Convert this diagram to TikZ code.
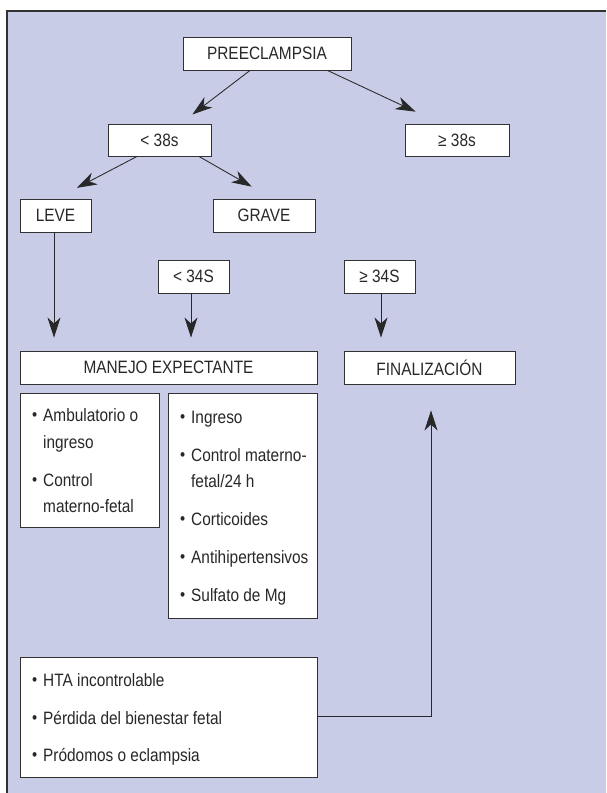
\documentclass[tikz,border=0pt]{standalone}
\usepackage{fontspec}
\setmainfont{Liberation Sans}[FakeStretch=0.86]
\usetikzlibrary{arrows.meta}
\definecolor{panelbg}{RGB}{200,204,230}
\definecolor{edge}{RGB}{50,50,50}
\definecolor{ink}{RGB}{40,40,40}
\newcommand{\blt}{\makebox[11pt][l]{\raisebox{0.3pt}{\scalebox{0.95}{•}}}}
\tikzset{
  box/.style={draw=edge, line width=0.9pt, fill=white, inner sep=0pt, text=ink,
    font=\fontsize{17.9}{20}\selectfont},
  arr/.style={draw=ink, line width=0.85pt, -{Stealth[length=20pt,width=13pt,inset=6pt]}},
  line/.style={anchor=base west, inner sep=0pt, text=ink, font=\fontsize{17.9}{20}\selectfont}
}
\begin{document}
\begin{tikzpicture}[x=1pt,y=-1pt]
\useasboundingbox (0,0) rectangle (606,793);
\fill[panelbg] (7,11) rectangle (606,793);
\draw[edge, line width=1.3pt] (7,793) -- (7,11) -- (606,11);

% boxes
\node[box, minimum width=168pt, minimum height=33pt] (pre) at (267,53.5) {PREECLAMPSIA};
\node[box, minimum width=103pt, minimum height=32pt] (lt38) at (159.5,140) {< 38s};
\node[box, minimum width=104pt, minimum height=32pt] (ge38) at (457,140) {≥ 38s};
\node[box, minimum width=71pt, minimum height=33pt] (leve) at (55.5,215.5) {LEVE};
\node[box, minimum width=102pt, minimum height=33pt] (grave) at (264,215.5) {GRAVE};
\node[box, minimum width=71pt, minimum height=33pt] (lt34) at (193.5,276.5) {< 34S};
\node[box, minimum width=71pt, minimum height=33pt] (ge34) at (379.5,276.5) {≥ 34S};
\node[box, minimum width=297pt, minimum height=33pt] (manejo) at (168.5,367.5) {MANEJO EXPECTANTE};
\node[box, minimum width=171pt, minimum height=33pt] (fin) at (429.5,367.5) {FINALIZACIÓN};
\node[box, minimum width=139pt, minimum height=134pt] (listL) at (89.5,460) {};
\node[box, minimum width=149pt, minimum height=225pt] (listR) at (242.5,505.5) {};
\node[box, minimum width=297pt, minimum height=120pt] (listB) at (168.5,717) {};

% list texts
\node[line] (l1) at (32,421) {\blt Ambulatorio o};
\node[line] (l2) at (43,448) {ingreso};
\node[line] (l3) at (32,486) {\blt Control};
\node[line] (l4) at (43,512) {materno-fetal};

\node[line] (r1) at (180,423) {\blt Ingreso};
\node[line] (r2) at (180,461) {\blt Control materno-};
\node[line] (r3) at (191,487) {fetal/24 h};
\node[line] (r4) at (180,525) {\blt Corticoides};
\node[line] (r5) at (180,563) {\blt Antihipertensivos};
\node[line] (r6) at (180,601) {\blt Sulfato de Mg};

\node[line] (b1) at (32,686) {\blt HTA incontrolable};
\node[line] (b2) at (32,724) {\blt Pérdida del bienestar fetal};
\node[line] (b3) at (32,761) {\blt Pródomos o eclampsia};

% connectors
\draw[arr, shorten >=15pt] ([xshift=-17pt]pre.south) -- ([xshift=21pt]lt38.north);
\draw[arr, shorten >=28pt] ([xshift=60.5pt]pre.south) -- ([xshift=-16pt]ge38.north);
\draw[arr, shorten >=23pt] ([xshift=-22.5pt]lt38.south) -- ([xshift=1pt]leve.north);
\draw[arr, shorten >=24pt] ([xshift=39.5pt]lt38.south) -- ([xshift=8.5pt]grave.north);
\draw[arr, shorten >=13pt] ([xshift=-1.5pt]leve.south) -- ([xshift=-114.5pt]manejo.north);
\draw[arr, shorten >=13pt] ([xshift=-2.5pt]lt34.south) -- ([xshift=22.5pt]manejo.north);
\draw[arr, shorten >=13pt] ([xshift=1.5pt]ge34.south) -- ([xshift=-48.5pt]fin.north);
\draw[arr, shorten >=26pt] ([yshift=1pt]listB.east) -| ([xshift=1.5pt]fin.south);
\end{tikzpicture}
\end{document}
